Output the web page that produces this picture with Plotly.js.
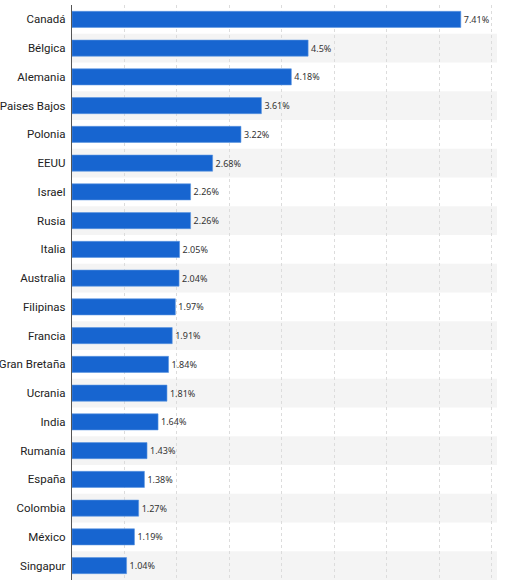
<!DOCTYPE html>
<html><head><meta charset="utf-8">
<script src="https://cdn.plot.ly/plotly-3.0.1.min.js"></script>
<style>html,body{margin:0;padding:0;background:#fff}#c{width:505px;height:588px}</style>
</head><body><div id="c"></div>
<script>
const countries = ["Canadá","Bélgica","Alemania","Paises Bajos","Polonia","EEUU","Israel","Rusia","Italia","Australia","Filipinas","Francia","Gran Bretaña","Ucrania","India","Rumanía","España","Colombia","México","Singapur"];
const shares = [7.41,4.5,4.18,3.61,3.22,2.68,2.26,2.26,2.05,2.04,1.97,1.91,1.84,1.81,1.64,1.43,1.38,1.27,1.19,1.04];
const labels = shares.map(v => v + "%");

const shapes = [];
countries.forEach((c, i) => {
  if (i % 2 === 1) {
    shapes.push({type:"rect", xref:"paper", yref:"y", x0:0, x1:1, y0:i-0.5, y1:i+0.5,
      fillcolor:"#f4f4f4", line:{width:0}, layer:"below"});
  }
});

Plotly.newPlot("c", [{
  type:"bar", orientation:"h",
  y: countries.map((c,i)=>i), x: shares,
  text: labels, textposition:"outside", cliponaxis:false,
  textfont:{family:"Noto Sans, Open Sans, sans-serif", size:9, color:"#333"},
  marker:{color:"#1765d0", line:{color:"#5a95e0", width:0.6}},
  width:0.56, hoverinfo:"none"
}], {
  width:505, height:588,
  margin:{l:72, r:8, t:5, b:8},
  paper_bgcolor:"#fff", plot_bgcolor:"rgba(0,0,0,0)",
  showlegend:false,
  shapes: shapes,
  xaxis:{range:[0,8.1], dtick:1, showticklabels:false, showgrid:true, gridcolor:"#dcdcdc",
    griddash:"dot", gridwidth:1, zeroline:false, showline:false, ticks:""},
  yaxis:{autorange:false, range:[19.5,-0.5], tickmode:"array",
    tickvals: countries.map((c,i)=>i), ticktext: countries,
    showgrid:false, zeroline:false, showline:true, linecolor:"#555", linewidth:1.2,
    ticks:"", ticklabelstandoff:3,
    tickfont:{family:"Roboto, Noto Sans, sans-serif", size:11.5, color:"#222"}}
}, {displayModeBar:false, staticPlot:true});
</script></body></html>
